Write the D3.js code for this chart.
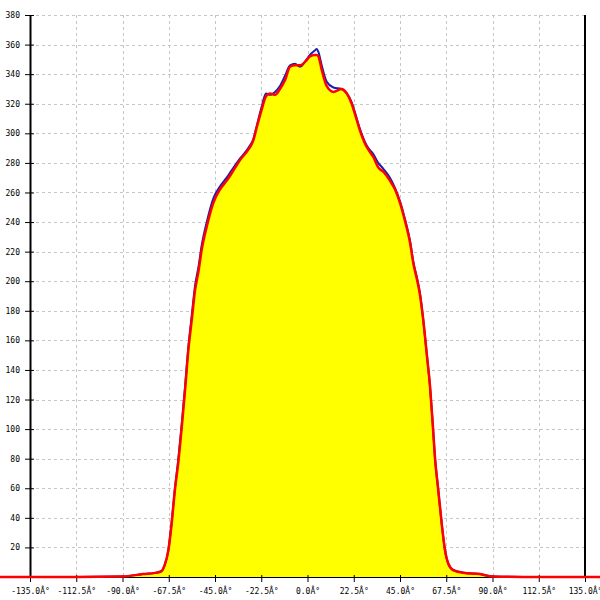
<!DOCTYPE html>
<html>
<head>
<meta charset="utf-8">
<script src="https://cdn.jsdelivr.net/npm/d3@7"></script>
<style>
  html, body { margin: 0; padding: 0; background: #fff; }
  svg { display: block; }
  text { font-family: "DejaVu Sans Mono", monospace; font-size: 8px; fill: #000; }
</style>
</head>
<body>
<svg id="chart" width="600" height="600"></svg>
<script>
// ---- data ----
const angles = [-160, -135, -112.5, -90, -80, -74, -71, -69.5, -67.7, -66.1, -64.5, -62.9, -61.2, -59.6, -58, -56.3, -54.7, -53, -51.5, -49, -45.8, -42.6, -39.3, -36.9, -32.8, -28.8, -26.4, -24.7, -22.3, -20.2, -18.2, -15.8, -13.4, -10.9, -8.5, -6.1, -3.6, -0.4, 1.2, 3.6, 4.5, 5.3, 6.9, 9.3, 12.6, 16.6, 19.1, 21.5, 23.1, 25.5, 28.0, 29.6, 32.0, 34.4, 36.9, 40.1, 42.6, 45.0, 47.4, 49.9, 51.5, 53.3, 54.7, 56.3, 58.0, 59.6, 60.9, 62.0, 63.6, 65.3, 66.9, 68.5, 70.9, 75.8, 83.9, 90.2, 112.5, 135, 160];
const redValues = [0, 0, 0, 0.3, 2, 2.8, 4, 8, 18, 36, 59, 77, 101, 126, 153, 174, 194, 207, 221, 237, 253, 262, 268, 273, 282, 289, 295, 304, 316, 325, 327, 326, 330, 336, 345, 346, 346, 349.5, 352, 353, 353, 352, 343, 332, 328, 330, 327, 320, 313, 302, 293, 289, 284, 277, 274, 268, 262, 253, 241, 226, 212, 201, 191, 174, 151, 129, 104, 81, 59, 36, 18, 9, 4.7, 2.9, 2, 0.3, 0, 0, 0];
const blueValues = [0, 0, 0, 0.3, 2, 2.8, 4, 8, 18, 37, 60, 79, 103, 128, 155, 177, 197, 210, 224, 240, 256, 264, 270, 275, 283, 290, 296, 305, 318, 327, 326, 328, 332, 339, 346, 347, 345, 350, 353, 356, 357, 355, 346, 335, 331, 330, 327, 321, 314, 303, 294, 290, 286, 280, 276, 270, 263, 254, 242, 227, 213, 202, 192, 174, 151, 129, 104, 81, 59, 36, 18, 9, 4.7, 2.9, 2, 0.3, 0, 0, 0];
const xTickValues = [-135, -112.5, -90, -67.5, -45, -22.5, 0, 22.5, 45, 67.5, 90, 112.5, 135];
const xTickLabels = ["-135.0Â°", "-112.5Â°", "-90.0Â°", "-67.5Â°", "-45.0Â°", "-22.5Â°", "0.0Â°", "22.5Â°", "45.0Â°", "67.5Â°", "90.0Â°", "112.5Â°", "135.0Â°"];
const yTickValues = [20, 40, 60, 80, 100, 120, 140, 160, 180, 200, 220, 240, 260, 280, 300, 320, 340, 360, 380];

// ---- chart ----
const svg = d3.select("#chart");
const mLeft = 30, mRight = 585, mTop = 15, mBottom = 577;
const x = d3.scaleLinear().domain([-135, 135]).range([mLeft, mRight]);
const y = d3.scaleLinear().domain([0, 380]).range([mBottom, mTop]);

svg.append("rect").attr("width", 600).attr("height", 600).attr("fill", "#fff");

// grid
const grid = svg.append("g").attr("stroke", "#c6c6c6").attr("stroke-width", 1).attr("stroke-dasharray", "3,3");
yTickValues.forEach(v => {
  grid.append("line").attr("x1", mLeft).attr("x2", mRight)
    .attr("y1", Math.round(y(v)) + 0.5).attr("y2", Math.round(y(v)) + 0.5);
});
xTickValues.filter(v => v > -135 && v < 135).forEach(v => {
  grid.append("line").attr("y1", mTop).attr("y2", mBottom)
    .attr("x1", Math.round(x(v)) + 0.5).attr("x2", Math.round(x(v)) + 0.5);
});

const redData = angles.map((a, i) => [a, redValues[i]]);
const blueData = angles.map((a, i) => [a, blueValues[i]]);

const area = d3.area().x(d => x(d[0])).y0(y(0)).y1(d => y(d[1])).curve(d3.curveMonotoneX);
const line = d3.line().x(d => x(d[0])).y(d => y(d[1])).curve(d3.curveMonotoneX);

svg.append("path").datum(redData).attr("d", area).attr("fill", "#ffff00");

// axes
const yAxis = d3.axisLeft(y).tickValues(yTickValues).tickSize(5).tickSizeOuter(0).tickPadding(5);
const gy = svg.append("g").attr("transform", `translate(${mLeft},0)`).call(yAxis);
gy.select(".domain").attr("stroke", "#000").attr("stroke-width", 2);
gy.selectAll(".tick line").attr("stroke", "#000").attr("x2", 4).attr("x1", -5);
gy.selectAll(".tick text").attr("font-family", "DejaVu Sans Mono").attr("font-size", 8).attr("x", -10);

svg.append("line").attr("x1", mRight).attr("x2", mRight).attr("y1", mTop).attr("y2", mBottom)
  .attr("stroke", "#000").attr("stroke-width", 2);

const xAxis = d3.axisBottom(x).tickValues(xTickValues).tickFormat((d, i) => xTickLabels[i]).tickSize(5).tickSizeOuter(0).tickPadding(6);
const gx = svg.append("g").attr("transform", `translate(0,${mBottom})`).call(xAxis);
gx.select(".domain").attr("stroke", "#000").attr("stroke-width", 1);
gx.selectAll(".tick line").attr("stroke", "#000").attr("y1", -2);
gx.selectAll(".tick text").attr("font-family", "DejaVu Sans Mono").attr("font-size", 8);

// lines
svg.append("path").datum(blueData).attr("d", line).attr("fill", "none")
  .attr("stroke", "#1c1cb0").attr("stroke-width", 2);
svg.append("path").datum(redData).attr("d", line).attr("fill", "none")
  .attr("stroke", "#ff0000").attr("stroke-width", 2.5);
</script>
</body>
</html>
